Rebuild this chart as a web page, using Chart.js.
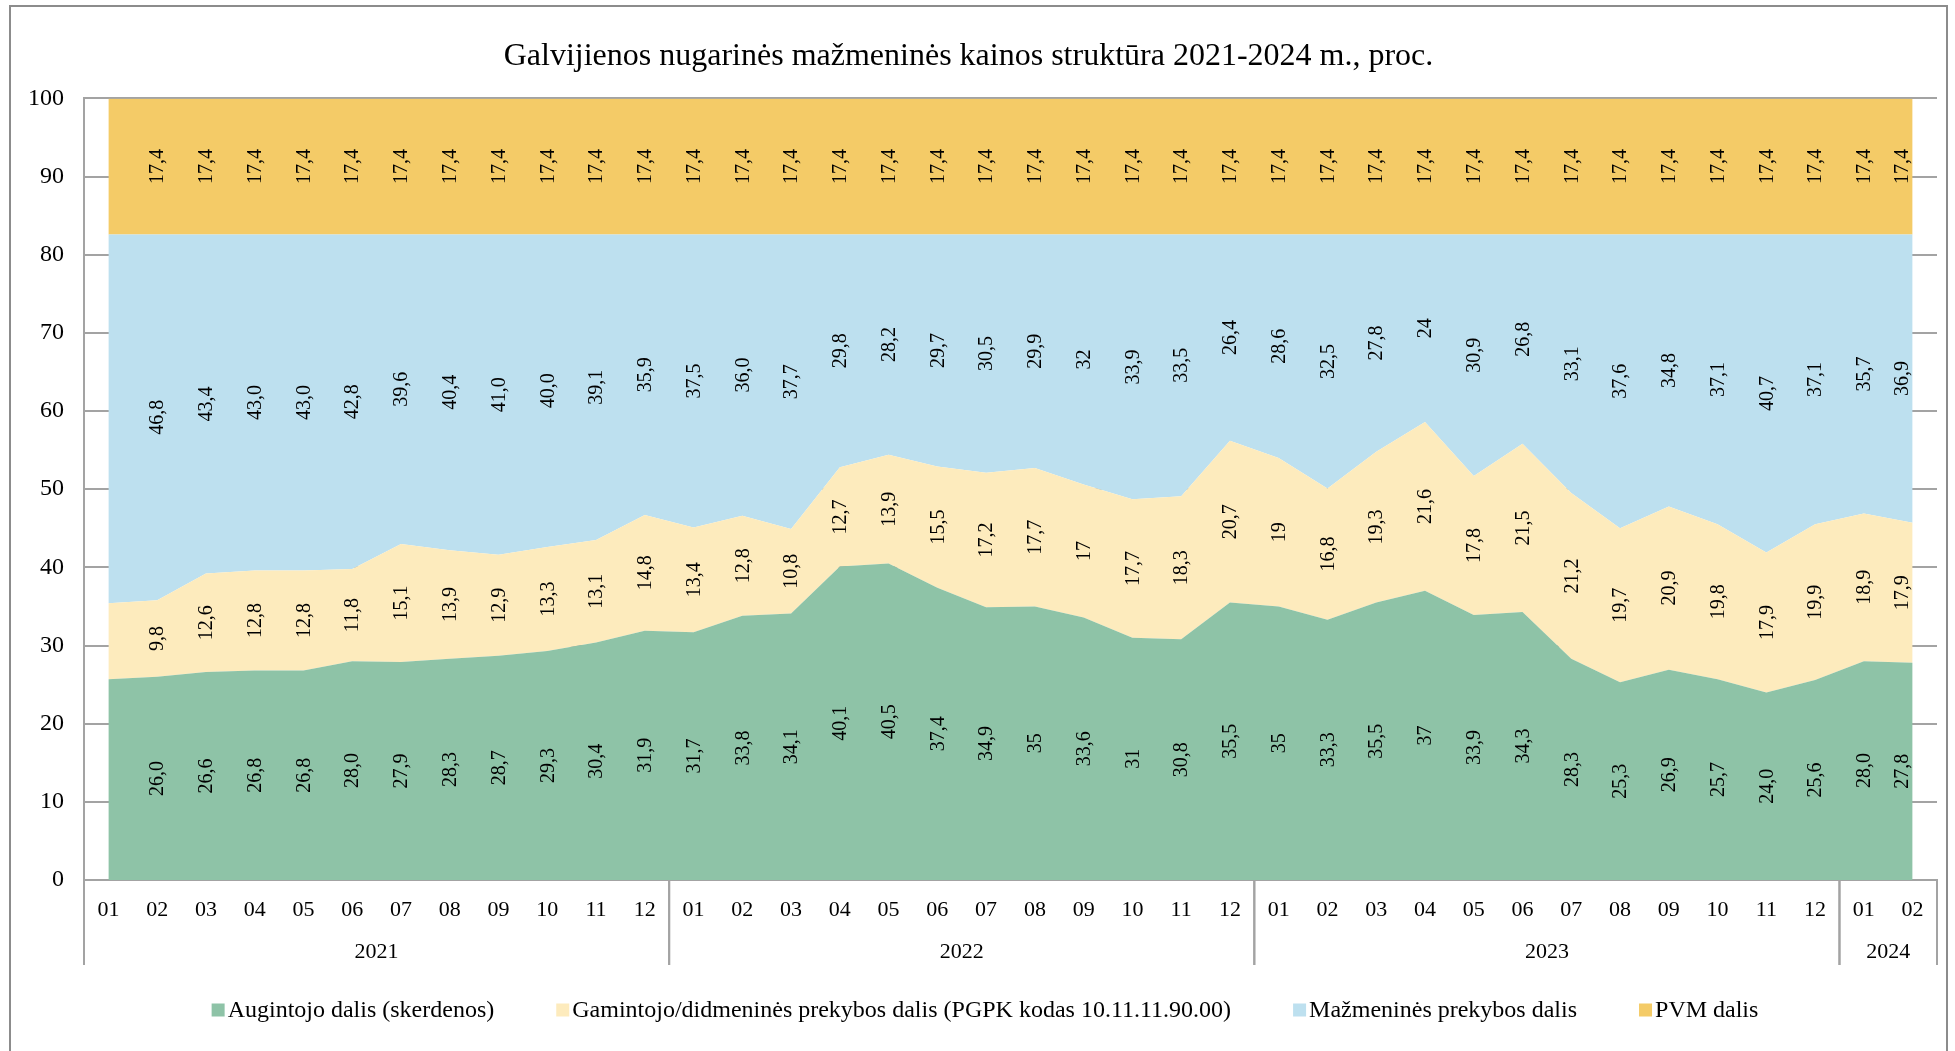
<!DOCTYPE html>
<html>
<head>
<meta charset="utf-8">
<script src="https://cdn.jsdelivr.net/npm/chart.js@4.4.1/dist/chart.umd.min.js"></script>
<style>
  html, body { margin:0; padding:0; background:#fff; }
  canvas { display:block; }
</style>
</head>
<body>
<canvas id="c" width="1955" height="1051"></canvas>
<script>
const years = ['2021', '2022', '2023', '2024']
const monthsPerYear = [12, 12, 12, 2]
const months = [
  '01','02','03','04','05','06','07','08','09','10','11','12',
  '01','02','03','04','05','06','07','08','09','10','11','12',
  '01','02','03','04','05','06','07','08','09','10','11','12',
  '01','02'
]

// values kept as written on the source chart (comma decimals, some without ",0")
const augintojo = [
  '25,7','26,0','26,6','26,8','26,8','28,0','27,9','28,3','28,7','29,3','30,4','31,9',
  '31,7','33,8','34,1','40,1','40,5','37,4','34,9','35','33,6','31','30,8','35,5',
  '35','33,3','35,5','37','33,9','34,3','28,3','25,3','26,9','25,7','24,0','25,6',
  '28,0','27,8'
]
const gamintojo = [
  '9,7','9,8','12,6','12,8','12,8','11,8','15,1','13,9','12,9','13,3','13,1','14,8',
  '13,4','12,8','10,8','12,7','13,9','15,5','17,2','17,7','17','17,7','18,3','20,7',
  '19','16,8','19,3','21,6','17,8','21,5','21,2','19,7','20,9','19,8','17,9','19,9',
  '18,9','17,9'
]
const mazmenines = [
  '47,2','46,8','43,4','43,0','43,0','42,8','39,6','40,4','41,0','40,0','39,1','35,9',
  '37,5','36,0','37,7','29,8','28,2','29,7','30,5','29,9','32','33,9','33,5','26,4',
  '28,6','32,5','27,8','24','30,9','26,8','33,1','37,6','34,8','37,1','40,7','37,1',
  '35,7','36,9'
]
const pvm = [
  '17,4','17,4','17,4','17,4','17,4','17,4','17,4','17,4','17,4','17,4','17,4','17,4',
  '17,4','17,4','17,4','17,4','17,4','17,4','17,4','17,4','17,4','17,4','17,4','17,4',
  '17,4','17,4','17,4','17,4','17,4','17,4','17,4','17,4','17,4','17,4','17,4','17,4',
  '17,4','17,4'
]
const seriesNames = [
  'Augintojo dalis (skerdenos)',
  'Gamintojo/didmeninės prekybos dalis (PGPK kodas 10.11.11.90.00)',
  'Mažmeninės prekybos dalis',
  'PVM dalis'
]
const seriesColors = ['#8ec3a7', '#fdebbd', '#bde0ef', '#f4cb67']
const titleText = 'Galvijienos nugarinės mažmeninės kainos struktūra 2021-2024 m., proc.'
const firstLabelled = 1 // first month has no value labels in the source

const FONT = "'Liberation Serif', 'Times New Roman', serif"
const GRID = '#a3a3a3'
const num = s => parseFloat(s.replace(',', '.'))
const rawValues = [augintojo, gamintojo, mazmenines, pvm]

const framePlugin = {
  id: 'frame',
  beforeDraw(chart) {
    const ctx = chart.ctx
    ctx.save()
    ctx.fillStyle = '#fff'
    ctx.fillRect(0, 0, chart.width, chart.height)
    ctx.strokeStyle = '#8c8c8c'
    ctx.lineWidth = 2
    ctx.beginPath()
    ctx.moveTo(10, chart.height + 2)
    ctx.lineTo(10, 6)
    ctx.lineTo(1947, 6)
    ctx.lineTo(1947, chart.height + 2)
    ctx.stroke()
    ctx.restore()
  }
}

const valueLabels = {
  id: 'valueLabels',
  afterDatasetsDraw(chart) {
    const ctx = chart.ctx
    const y = chart.scales.y
    const last = chart.data.labels.length - 1
    ctx.save()
    ctx.fillStyle = '#000'
    ctx.font = `20px ${FONT}`
    ctx.textAlign = 'center'
    ctx.textBaseline = 'middle'
    chart.data.datasets.forEach((ds, d) => {
      const meta = chart.getDatasetMeta(d)
      const below = d > 0 ? chart.getDatasetMeta(d - 1) : null
      meta.data.forEach((pt, i) => {
        if (i < firstLabelled) return
        const bottom = below ? below.data[i].y : y.getPixelForValue(0)
        const cy = (pt.y + bottom) / 2
        // labels of the last month sit pulled in from the plot edge
        const dx = i === last ? -11 : 0
        ctx.save()
        ctx.translate(pt.x + dx, cy)
        ctx.rotate(-Math.PI / 2)
        ctx.fillText(ds.raw[i], 0, 1)
        ctx.restore()
      })
    })
    ctx.restore()
  }
}

const yearGroups = {
  id: 'yearGroups',
  afterDraw(chart) {
    const ctx = chart.ctx
    const x = chart.scales.x
    const half = (x.getPixelForValue(1) - x.getPixelForValue(0)) / 2
    const top = chart.chartArea.bottom
    ctx.save()
    ctx.strokeStyle = GRID
    ctx.lineWidth = 2
    ctx.fillStyle = '#000'
    ctx.font = `22px ${FONT}`
    ctx.textAlign = 'center'
    ctx.textBaseline = 'middle'
    let start = 0
    years.forEach((yr, k) => {
      const end = start + monthsPerYear[k] - 1
      const left = x.getPixelForValue(start) - half
      const right = x.getPixelForValue(end) + half
      ctx.beginPath()
      ctx.moveTo(left, top)
      ctx.lineTo(left, top + 85)
      ctx.moveTo(right, top)
      ctx.lineTo(right, top + 85)
      ctx.stroke()
      ctx.fillText(yr, (left + right) / 2, top + 72)
      start = end + 1
    })
    ctx.restore()
  }
}

const bottomLegend = {
  id: 'bottomLegend',
  afterDraw(chart) {
    const ctx = chart.ctx
    const box = 13, boxGap = 3, itemGap = 62
    const cy = 1010, cx = 985
    ctx.save()
    ctx.font = `24px ${FONT}`
    const widths = chart.data.datasets.map(ds => ctx.measureText(ds.label).width)
    const total = widths.reduce((a, w) => a + box + boxGap + w, 0) + itemGap * (widths.length - 1)
    let xPos = cx - total / 2
    ctx.textAlign = 'left'
    ctx.textBaseline = 'middle'
    chart.data.datasets.forEach((ds, i) => {
      ctx.fillStyle = ds.backgroundColor
      ctx.fillRect(xPos, cy - box / 2, box, box)
      ctx.fillStyle = '#000'
      ctx.fillText(ds.label, xPos + box + boxGap, cy + 1)
      xPos += box + boxGap + widths[i] + itemGap
    })
    ctx.restore()
  }
}

const ctx = document.getElementById('c').getContext('2d')
new Chart(ctx, {
  type: 'line',
  data: {
    labels: months,
    datasets: rawValues.map((vals, i) => ({
      label: seriesNames[i],
      data: vals.map(num),
      raw: vals,
      backgroundColor: seriesColors[i],
      borderColor: seriesColors[i],
      borderWidth: 0,
      pointRadius: 0,
      tension: 0,
      fill: i === 0 ? 'origin' : '-1'
    }))
  },
  options: {
    responsive: false,
    animation: false,
    layout: { padding: { left: 0, right: 18, top: 0, bottom: 0 } },
    scales: {
      x: {
        offset: true,
        z: 1,
        grid: { display: false, drawTicks: false },
        border: { display: true, color: GRID, width: 2 },
        ticks: { color: '#000', font: { family: FONT, size: 22 }, padding: 17, maxRotation: 0, autoSkip: false },
        afterFit: s => { s.height = 171 }
      },
      y: {
        stacked: true,
        min: 0,
        max: 100,
        grid: { color: GRID, lineWidth: 2, drawTicks: false },
        border: { display: true, color: GRID, width: 2 },
        ticks: { stepSize: 10, color: '#000', font: { family: FONT, size: 24 }, padding: 20 },
        afterFit: s => { s.width = 84 }
      }
    },
    plugins: {
      legend: { display: false },
      tooltip: { enabled: false },
      title: {
        display: true,
        text: titleText,
        color: '#000',
        font: { family: FONT, size: 32, weight: 'normal' },
        padding: { top: 37, bottom: 23 }
      }
    }
  },
  plugins: [framePlugin, valueLabels, yearGroups, bottomLegend]
})
</script>
</body>
</html>
